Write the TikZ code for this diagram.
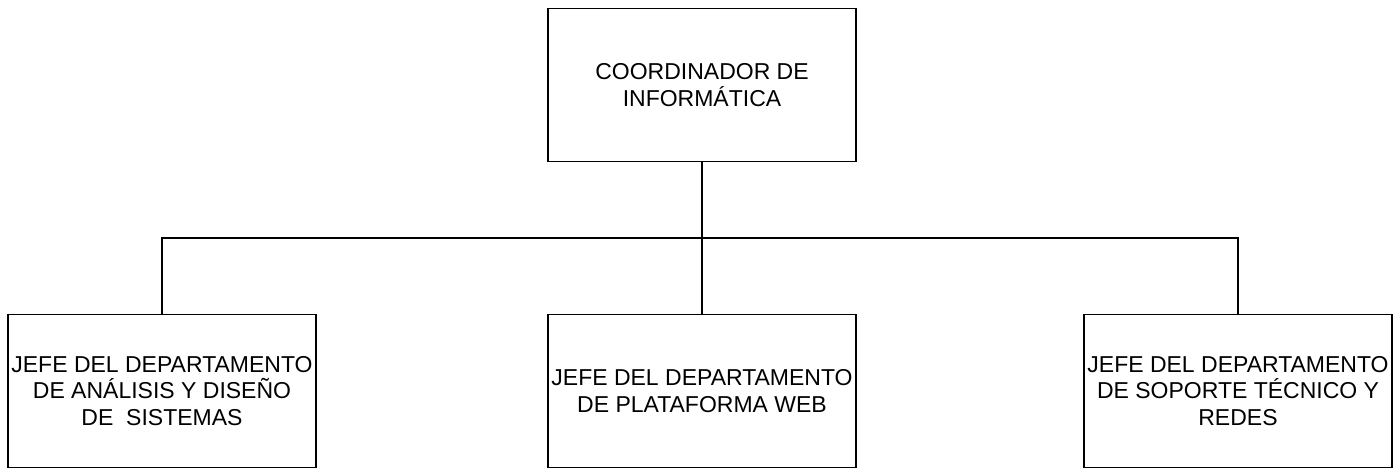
\documentclass[tikz,border=0pt]{standalone}
\usepackage{fontspec}
\setmainfont{Liberation Sans}
\usepackage{tikz}
\tikzstyle{puesto} = [rectangle, draw=black, line width=1.4pt, minimum width=308pt, minimum height=153pt, inner sep=0pt, align=center, font=\fontsize{23}{26.5}\selectfont]
\tikzstyle{linea} = [line width=1.4pt]

\begin{document}
\begin{tikzpicture}[x=1pt, y=-1pt]
	\useasboundingbox (0,0) rectangle (1398,470);
	\node (coordinador) at (702, 85) [puesto] {COORDINADOR DE\\INFORMÁTICA};
	\node (analisis) at (162, 391) [puesto] {JEFE DEL DEPARTAMENTO\\DE ANÁLISIS Y DISEÑO\\DE \ SISTEMAS};
	\node (plataforma) at (702, 391) [puesto] {JEFE DEL DEPARTAMENTO\\DE PLATAFORMA WEB};
	\node (redes) at (1238, 391) [puesto] {JEFE DEL DEPARTAMENTO\\DE SOPORTE TÉCNICO Y\\REDES};
	\coordinate (barra) at (702, 238);
	\draw[linea] (coordinador.south) -- (plataforma.north);
	\draw[linea] (analisis.north) |- (barra) -| (redes.north);
\end{tikzpicture}
\end{document}
